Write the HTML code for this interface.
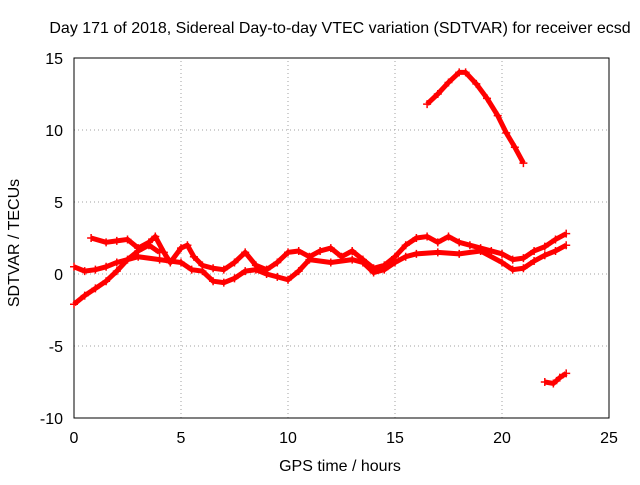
<!DOCTYPE html>
<html><head><meta charset="utf-8"><style>
body{margin:0;background:#fff;}
svg text{font-family:"Liberation Sans",sans-serif;font-size:16px;fill:#000;}
</style></head><body>
<svg id="c" width="640" height="480">
<text x="340" y="33" text-anchor="middle">Day 171 of 2018, Sidereal Day-to-day VTEC variation (SDTVAR) for receiver ecsd</text>
<text x="340" y="471" text-anchor="middle">GPS time / hours</text>
<text transform="translate(19,243) rotate(-90)" text-anchor="middle">SDTVAR / TECUs</text>
</svg>
<script>
const xTicks=[0,5,10,15,20,25];
const yTicks=[15,10,5,0,-5,-10];
const tA=[0,0.5,1,1.5,2,2.5,3,3.5,4];
const vA=[-2.1,-1.5,-1,-0.5,0.2,1,1.6,2.0,1.5];
const tB=[0.8,1.5,2,2.5,3,3.5,3.8,4.2,4.5,5,5.3,5.6,6,6.5,7,7.5,8,8.5,9,9.5,10,10.5,11,11.5,12,12.5,13,13.5,14,14.5,15,15.5,16,16.5,17,17.5,18,18.5,19,19.5,20,20.5,21,21.5,22,22.5,23];
const vB=[2.5,2.2,2.3,2.4,1.8,2.2,2.6,1.5,0.8,1.8,2.0,1.2,0.6,0.4,0.3,0.8,1.5,0.6,0.3,0.8,1.5,1.6,1.2,1.6,1.8,1.2,1.6,1.0,0.4,0.6,1.2,2.0,2.5,2.6,2.2,2.6,2.2,2.0,1.8,1.6,1.4,1.0,1.1,1.6,1.9,2.4,2.8];
const tC=[0,0.5,1,1.5,2,3,4,5,5.5,6,6.5,7,7.5,8,8.5,9,9.5,10,10.5,11,12,13,13.5,14,14.5,15,15.5,16,17,18,19,20,20.5,21,21.5,22,22.5,23];
const vC=[0.5,0.2,0.3,0.5,0.8,1.2,1.0,0.8,0.3,0.2,-0.5,-0.6,-0.3,0.2,0.3,0,-0.2,-0.4,0.2,1.0,0.8,1.0,0.8,0.1,0.3,0.8,1.2,1.4,1.5,1.4,1.6,0.8,0.3,0.4,0.9,1.3,1.6,2.0];
const tD=[16.5,17,17.5,18,18.3,18.8,19.3,19.8,20.2,20.6,21];
const vD=[11.8,12.5,13.3,14.0,14.0,13.2,12.2,11.0,9.8,8.8,7.7];
const tE=[22,22.4,22.7,23];
const vE=[-7.5,-7.6,-7.2,-6.9];
const X0=74,X1=609,Y0=418,Y1=58;
const sx=v=>X0+(v-0)/25*(X1-X0);
const sy=v=>Y0-(v+10)/25*(Y0-Y1);
const svg=document.getElementById('c');
const NS='http://www.w3.org/2000/svg';
function mk(tag,attrs){const e=document.createElementNS(NS,tag);for(const k in attrs)e.setAttribute(k,attrs[k]);svg.appendChild(e);return e;}
xTicks.forEach(t=>{
 if(t>0&&t<25){const g=mk('line',{x1:sx(t),x2:sx(t),y1:Y0,y2:Y1,stroke:'#a0a0a0','stroke-dasharray':'1,3'});
 
 }
 const l=mk('text',{x:sx(t),y:Y0+25,'text-anchor':'middle'});l.textContent=t;
 
 
});
yTicks.forEach(t=>{
 if(t>-10&&t<15){const g=mk('line',{x1:X0,x2:X1,y1:sy(t),y2:sy(t),stroke:'#a0a0a0','stroke-dasharray':'1,3'});
 
 }
 const l=mk('text',{x:X0-11,y:sy(t)+6,'text-anchor':'end'});l.textContent=t;
 
 
});
const border=mk('rect',{x:X0,y:Y1,width:X1-X0,height:Y0-Y1,fill:'none',stroke:'#000'});


[[tA,vA,'track-a'],[tB,vB,'track-upper-band'],[tC,vC,'track-lower-band'],[tD,vD,'track-arc'],[tE,vE,'track-negative']].forEach(([t,v,n])=>{
 const p=mk('polyline',{points:t.map((x,i)=>sx(x)+','+sy(v[i])).join(' '),fill:'none',stroke:'#ff0000','stroke-width':5,'stroke-linejoin':'round'});
 
 
 t.forEach((x,i)=>{const m=mk('path',{d:`M${sx(x)-4},${sy(v[i])}h8M${sx(x)},${sy(v[i])-4}v8`,stroke:'#ff0000','stroke-width':1.5});
 
 });
});
</script>
</body></html>
